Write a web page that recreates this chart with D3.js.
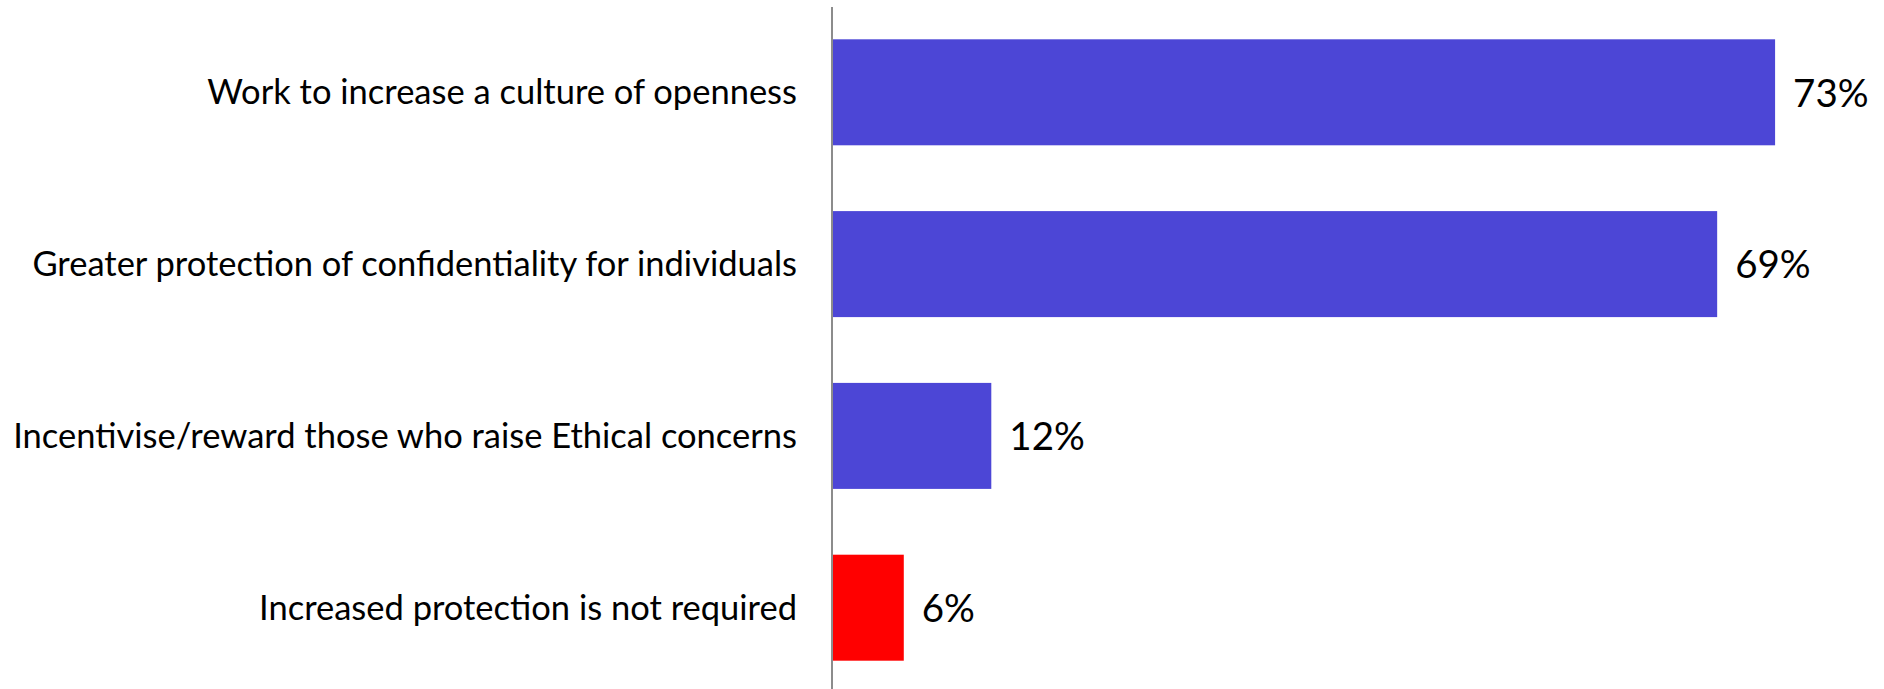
<!DOCTYPE html>
<html><head><meta charset="utf-8">
<script src="https://cdn.jsdelivr.net/npm/d3@7"></script>
<style>html,body{margin:0;padding:0;background:#fff;}svg{display:block;}</style>
</head><body>
<svg id="c" width="1884" height="689"></svg>
<script>
const categories = [
  "Work to increase a culture of openness",
  "Greater protection of confidentiality for individuals",
  "Incentivise/reward those who raise Ethical concerns",
  "Increased protection is not required"
];
const values = [73.2, 68.7, 12.3, 5.5];
const valueLabels = ["73%", "69%", "12%", "6%"];
const barColors = ["#4c46d6", "#4c46d6", "#4c46d6", "#ff0000"];

const svg = d3.select("#c");
const FONT = "Lato, 'Open Sans', sans-serif";
const capRatio = 0.7165;

const x = d3.scaleLinear().domain([0, 100]).range([833, 833 + 1287]);
const y = d3.scaleBand().domain(categories).range([6.4, 693.6])
  .paddingInner(0.383).paddingOuter(0.1915);

const rows = svg.append("g").selectAll("g").data(categories).join("g");

rows.append("rect")
  .attr("x", x(0))
  .attr("y", d => y(d))
  .attr("width", (d, i) => x(values[i]) - x(0))
  .attr("height", y.bandwidth())
  .attr("fill", (d, i) => barColors[i]);

const catSize = 34.5;
rows.append("text")
  .attr("x", 797)
  .attr("y", d => y(d) + y.bandwidth() / 2 + 24 / 2)
  .attr("text-anchor", "end")
  .attr("font-family", FONT)
  .attr("font-size", catSize)
  .attr("fill", "#000")
  .text(d => d);

const valSize = 38.5;
rows.append("text")
  .attr("x", (d, i) => x(values[i]) + 18)
  .attr("y", d => y(d) + y.bandwidth() / 2 + valSize * capRatio / 2 + 0.5)
  .attr("font-family", FONT)
  .attr("font-size", valSize)
  .attr("fill", "#000")
  .text((d, i) => valueLabels[i]);

// axis line
const yAxis = d3.axisLeft(y).tickSize(0).tickFormat("");
const ag = svg.append("g").attr("transform", "translate(832,0)").call(yAxis);
ag.select(".domain").remove();
ag.append("line").attr("x1", 0).attr("x2", 0).attr("y1", 7).attr("y2", 689)
  .attr("stroke", "#8c8c8c").attr("stroke-width", 2);
</script>
</body></html>
